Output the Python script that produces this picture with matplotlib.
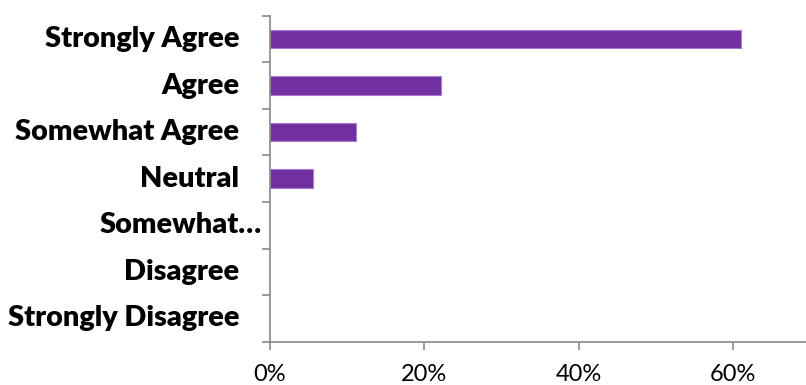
import matplotlib
matplotlib.use("Agg")
import matplotlib.pyplot as plt
from matplotlib.ticker import FuncFormatter

categories = ["Strongly Agree", "Agree", "Somewhat Agree", "Neutral",
              "Somewhat…", "Disagree", "Strongly Disagree"]
percent = [61.1, 22.2, 11.1, 5.6, 0.0, 0.0, 0.0]
x_ticks = [0, 20, 40, 60]

BAR_COLOR = "#7030A0"
EDGE_COLOR = "#A77BD0"
AXIS_COLOR = "#898989"

plt.rcParams["font.family"] = ["Lato", "DejaVu Sans"]

fig = plt.figure(figsize=(8.06, 3.85), dpi=100)
ax = fig.add_axes([270 / 806, 43.3 / 385, 540 / 806, 326 / 385])

pos = list(range(len(categories)))
bars = ax.barh(pos, percent, height=0.4, color=BAR_COLOR, edgecolor=EDGE_COLOR)
for bar, v in zip(bars, percent):
    bar.set_linewidth(0.8 if v > 0 else 0)

ax.set_ylim(len(categories) - 0.5, -0.5)
ax.set_xlim(0, 70)

for side in ("top", "right"):
    ax.spines[side].set_visible(False)
for side in ("left", "bottom"):
    ax.spines[side].set_color(AXIS_COLOR)
    ax.spines[side].set_linewidth(1.2)

# ticks sit on the category boundaries, labels are drawn separately
ax.set_yticks([p - 0.5 for p in pos] + [len(categories) - 0.5])
ax.set_yticklabels([])
ax.tick_params(axis="y", direction="out", length=6, width=1.2, color=AXIS_COLOR)

ax.set_xticks(x_ticks)
ax.xaxis.set_major_formatter(FuncFormatter(lambda v, _: f"{v:.0f}%"))
ax.tick_params(axis="x", direction="out", length=6, width=1.2, color=AXIS_COLOR,
               labelsize=17, pad=10, labelcolor="black")

for p, name in zip(pos, categories):
    gap = 6 if name.endswith("…") else 22
    ax.annotate(name, xy=(0, p), xytext=(-gap, 0), textcoords="offset points",
                ha="right", va="center", fontsize=20.8, fontweight="heavy",
                annotation_clip=False)

fig.savefig("out.png", dpi=100)
